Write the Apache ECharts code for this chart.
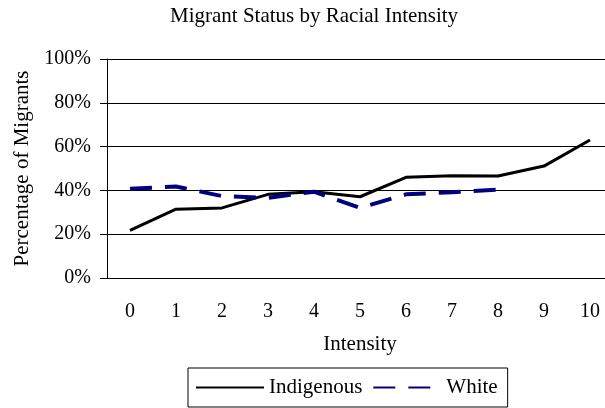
<!DOCTYPE html>
<html>
<head>
<meta charset="utf-8">
<script src="https://cdn.jsdelivr.net/npm/echarts@6.0.0/dist/echarts.min.js"></script>
<style>
html, body { margin: 0; padding: 0; background: #fff; }
#chart { width: 605px; height: 408px; }
</style>
</head>
<body>
<div id="chart"></div>
<script>
// values, percent
const intensity = ['0', '1', '2', '3', '4', '5', '6', '7', '8', '9', '10'];
const indigenous = [21.7, 31.4, 32, 38.2, 39.4, 37.1, 46, 46.7, 46.6, 51.1, 63];
const white = [40.7, 41.8, 37.4, 36.6, 39.4, 32, 38.2, 39.2, 40.3, null, null];
const yTicks = [0, 20, 40, 60, 80, 100];

const font = '"Liberation Serif", "Times New Roman", serif';

const chart = echarts.init(document.getElementById('chart'));
chart.setOption({
	animation: false,
	backgroundColor: '#fff',
	title: {
		text: 'Migrant Status by Racial Intensity',
		left: 170,
		top: 6,
		padding: 0,
		textStyle: { fontFamily: font, fontSize: 21, fontWeight: 'normal', color: '#000' }
	},
	grid: { left: 107, top: 59, width: 506, height: 219, outerBoundsMode: 'none' },
	legend: {
		left: 188,
		top: 368,
		padding: [9, 10, 9, 7],
		borderColor: '#000',
		borderWidth: 1,
		itemWidth: 68,
		itemHeight: 4,
		itemGap: 10,
		itemStyle: { opacity: 0 },
		textStyle: { fontFamily: font, fontSize: 21, color: '#000' },
		data: ['Indigenous', 'White']
	},
	xAxis: {
		type: 'category',
		data: intensity,
		name: 'Intensity',
		nameLocation: 'middle',
		nameGap: 56,
		nameTextStyle: { fontFamily: font, fontSize: 21, color: '#000' },
		axisLine: { lineStyle: { color: '#000', width: 1 } },
		axisTick: { length: 6, lineStyle: { color: '#000' } },
		axisLabel: { fontFamily: font, fontSize: 20, color: '#000', margin: 24 }
	},
	yAxis: {
		type: 'value',
		min: yTicks[0],
		max: yTicks[yTicks.length - 1],
		interval: 20,
		name: 'Percentage of Migrants',
		nameLocation: 'middle',
		nameGap: 73,
		nameTextStyle: { fontFamily: font, fontSize: 21, color: '#000' },
		axisLine: { show: true, lineStyle: { color: '#000', width: 1 } },
		axisTick: { show: true, length: 7, lineStyle: { color: '#000' } },
		axisLabel: { fontFamily: font, fontSize: 20, color: '#000', margin: 16, formatter: '{value}%' },
		splitLine: { lineStyle: { color: '#000', width: 1 } }
	},
	series: [
		{
			name: 'Indigenous',
			type: 'line',
			data: indigenous,
			symbol: 'none',
			lineStyle: { color: '#000', width: 3 },
			itemStyle: { color: '#000' }
		},
		{
			name: 'White',
			type: 'line',
			data: white,
			symbol: 'none',
			lineStyle: { color: '#000080', width: 4, type: [22, 13] },
			itemStyle: { color: '#000080' }
		}
	]
});
</script>
</body>
</html>
